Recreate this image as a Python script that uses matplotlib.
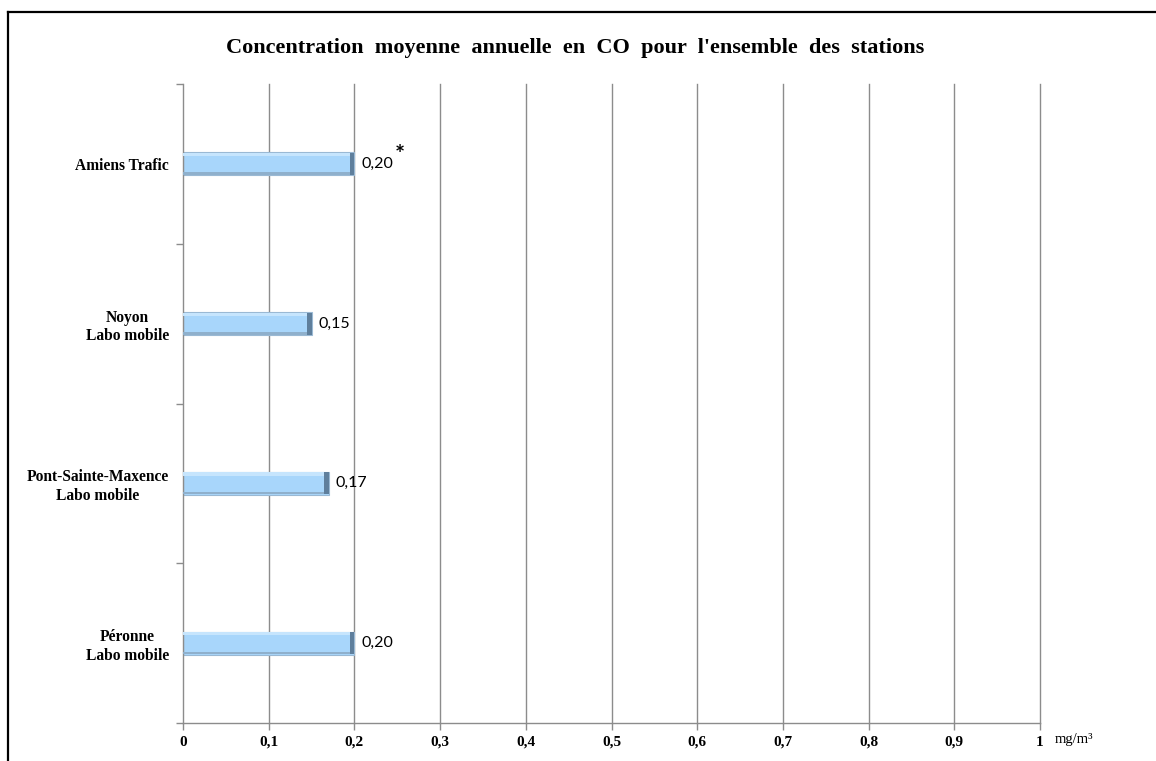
import matplotlib
matplotlib.use("Agg")
import matplotlib.pyplot as plt
from matplotlib.lines import Line2D

# Annual mean CO concentration per station (mg/m3)
stations = ["Amiens Trafic", "Noyon\nLabo mobile",
            "Pont-Sainte-Maxence\nLabo mobile", "Péronne\nLabo mobile"]
values = [0.20, 0.15, 0.17, 0.20]
value_labels = ["0,20", "0,15", "0,17", "0,20"]
flagged = [True, False, False, False]
x_ticks = [0, 0.1, 0.2, 0.3, 0.4, 0.5, 0.6, 0.7, 0.8, 0.9, 1.0]
x_tick_labels = ["0", "0,1", "0,2", "0,3", "0,4", "0,5", "0,6", "0,7", "0,8", "0,9", "1"]
title = "Concentration  moyenne  annuelle  en  CO  pour  l'ensemble  des  stations"
unit = "mg/m³"

serif = ["Liberation Serif", "DejaVu Serif"]
sans = ["Lato", "DejaVu Sans"]

fig = plt.figure(figsize=(11.56, 7.61), dpi=100)
fig.patch.set_facecolor("white")

# outer frame (left and top edges)
fig.add_artist(Line2D([8 / 1156, 8 / 1156], [0, 1 - 12 / 761], transform=fig.transFigure,
                      color="black", lw=1.6))
fig.add_artist(Line2D([8 / 1156, 1], [1 - 12 / 761, 1 - 12 / 761], transform=fig.transFigure,
                      color="black", lw=1.6))

ax = fig.add_axes([183 / 1156, 1 - 723 / 761, 857 / 1156, 639 / 761])

n = len(stations)
ypos = [n - 1 - i + 0.5 for i in range(n)]  # top station first
bar_h = 0.145

grid_c = "#8c8c8c"
for xt in x_ticks[1:]:
    ax.axvline(xt, color=grid_c, lw=1.0, zorder=0, clip_on=False)

fill = "#a8d6fb"
hi = "#c6e5fd"
lo = "#8fb0cc"
dark = "#5f7f9c"
for y, v in zip(ypos, values):
    ax.barh(y, v, height=bar_h, left=0, color=fill, edgecolor="#9ab9d4", lw=0.8, zorder=2)
    # bevel: light top band, muted bottom band, dark right end
    ax.barh(y + bar_h * 0.40, v, height=bar_h * 0.14, left=0, color=hi, lw=0, zorder=3)
    ax.barh(y - bar_h * 0.42, v, height=bar_h * 0.10, left=0, color=lo, lw=0, zorder=3)
    ax.barh(y, 0.005, height=bar_h * 0.96, left=v - 0.005, color=dark, lw=0, zorder=4)

for y, v, lab, fl in zip(ypos, values, value_labels, flagged):
    ax.annotate(lab, (v, y), xytext=(5, 0), textcoords="offset points",
                ha="left", va="center", fontsize=11.5, family=sans, zorder=5)
    if fl:
        ax.annotate("*", (v, y), xytext=(29, 6), textcoords="offset points",
                    ha="left", va="center", fontsize=17, family=sans, fontweight="bold")

ax.set_xlim(0, 1)
ax.set_ylim(0, n)
ax.set_xticks(x_ticks)
ax.set_xticklabels(x_tick_labels, family=serif, fontweight="bold", fontsize=11)
ax.set_yticks(list(range(n + 1)))
ax.set_yticklabels([])
ax.set_yticks(ypos, minor=True)
ax.set_yticklabels(stations, minor=True, family=serif, fontweight="bold", fontsize=11.2,
                   ha="right", multialignment="center")
ax.tick_params(axis="y", which="minor", length=0, pad=10)
ax.tick_params(axis="y", which="major", direction="out", length=5, color=grid_c, width=1)
ax.tick_params(axis="x", direction="out", length=5, color=grid_c, width=1, pad=4)

for side in ["top", "right"]:
    ax.spines[side].set_visible(False)
for side in ["left", "bottom"]:
    ax.spines[side].set_color(grid_c)
    ax.spines[side].set_linewidth(1.0)

fig.text(1055 / 1156, 1 - 740 / 761, unit, family=serif, fontsize=10.5,
         ha="left", va="center")
fig.text(575 / 1156, 1 - 48 / 761, title, family=serif, fontweight="bold", fontsize=16,
         ha="center", va="center")

fig.savefig("out.png", dpi=100, facecolor="white")
